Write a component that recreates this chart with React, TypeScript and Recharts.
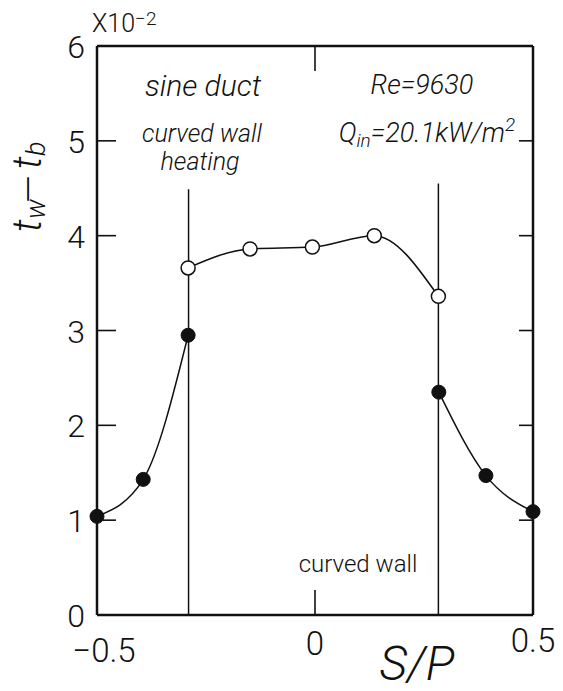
import React from 'react';
import { ComposedChart, Line, XAxis, YAxis, ReferenceLine, Customized } from 'recharts';

const leftFilledX = [-0.5, -0.394, -0.291];
const leftFilledY = [1.04, 1.43, 2.95];
const rightFilledX = [0.284, 0.392, 0.5];
const rightFilledY = [2.35, 1.47, 1.09];
const openX = [-0.291, -0.149, -0.006, 0.136, 0.283];
const openY = [3.66, 3.86, 3.88, 4.0, 3.36];
const wallX = [-0.29, 0.283];
const wallTop = [4.49, 4.55];
const xTicks = [-0.5, 0, 0.5];
const yTicks = [0, 1, 2, 3, 4, 5, 6];

const toRows = (xs: number[], ys: number[]) => xs.map((x, i) => ({ x, y: ys[i] }));
const leftFilled = toRows(leftFilledX, leftFilledY);
const rightFilled = toRows(rightFilledX, rightFilledY);
const openPts = toRows(openX, openY);

const W = 563;
const H = 691;
const PL = 97;
const PR = 533;
const PT = 46;
const PB = 615;
const FONT = 'Roboto, "Liberation Sans", Arial, sans-serif';
const INK = '#111';
const FW = 300;

const YTick = (props: any) => {
  const { x, y, payload } = props;
  const v = payload.value;
  const inner = v !== 0 && v !== 6;
  return (
    <g>
      <text x={x} y={y} dy={12} textAnchor="end" fontFamily={FONT} fontWeight={FW} fontSize={32} fill={INK}>
        {v}
      </text>
      {inner && <line x1={PL} x2={PL + 19} y1={y} y2={y} stroke={INK} strokeWidth={1.6} />}
      {inner && <line x1={PR - 14} x2={PR} y1={y} y2={y} stroke={INK} strokeWidth={1.6} />}
    </g>
  );
};

const XTick = (props: any) => {
  const { x, payload } = props;
  const v = payload.value;
  const label = v < 0 ? '\u2212' + String(Math.abs(v)) : String(v);
  const dx = v < 0 ? 7 : v > 0 ? 0 : 0;
  const dy = v < 0 ? 7 : v > 0 ? -3 : 0;
  return (
    <g>
      <text x={x + dx} y={PB + 40 + dy} textAnchor="middle" fontFamily={FONT} fontWeight={FW} fontSize={33} fill={INK}>
        {label}
      </text>
      {v === 0 && <line x1={x} x2={x} y1={PB - 25} y2={PB} stroke={INK} strokeWidth={1.6} />}
      {v === 0 && <line x1={x} x2={x} y1={PT} y2={PT + 25} stroke={INK} strokeWidth={1.6} />}
    </g>
  );
};

const Annotations = () => (
  <g fontFamily={FONT} fontWeight={FW} fill={INK}>
    <text x={92} y={32} fontSize={25} fill={INK}>
      X10
      <tspan dy={-7} fontSize={19}>{'\u22122'}</tspan>
    </text>
    <text transform="translate(41,232) rotate(-90)" fontSize={40} fontStyle="italic" fill={INK}>t</text>
    <text transform="translate(45,219) rotate(-90)" fontSize={27} fontStyle="italic" fill={INK}>w</text>
    <text transform="translate(41,203) rotate(-90)" fontSize={36} fill={INK}>{'\u2014'}</text>
    <text transform="translate(41,169) rotate(-90)" fontSize={40} fontStyle="italic" fill={INK}>t</text>
    <text transform="translate(45,156) rotate(-90)" fontSize={27} fontStyle="italic" fill={INK}>b</text>
    <text x={417} y={680} textAnchor="middle" fontSize={48} fontStyle="italic" fill={INK}>
      S/P
    </text>
    <text x={203} y={96} textAnchor="middle" fontSize={30} fontStyle="italic" fill={INK}>
      sine duct
    </text>
    <text x={202} y={142} textAnchor="middle" fontSize={25} fontStyle="italic" fill={INK}>
      curved wall
    </text>
    <text x={200} y={170} textAnchor="middle" fontSize={25} fontStyle="italic" fill={INK}>
      heating
    </text>
    <text x={422} y={94} textAnchor="middle" fontSize={27} fontStyle="italic" fill={INK}>
      Re=9630
    </text>
    <text x={427} y={142} textAnchor="middle" fontSize={27} fontStyle="italic" fill={INK}>
      Q<tspan fontSize={19} dy={5}>in</tspan>
      <tspan dy={-5}>=20.1kW/m</tspan>
      <tspan fontSize={19} dy={-11}>2</tspan>
    </text>
    <text x={358} y={572} textAnchor="middle" fontSize={24} fill={INK}>
      curved wall
    </text>
  </g>
);

const filledDot = (props: any) => {
  const { cx, cy, index } = props;
  return <circle key={'f' + index + cx} cx={cx} cy={cy} r={7} fill={INK} stroke={INK} />;
};

const openDot = (props: any) => {
  const { cx, cy, index } = props;
  return <circle key={'o' + index + cx} cx={cx} cy={cy} r={7} fill="#fff" stroke={INK} strokeWidth={1.5} />;
};

export default function App() {
  return (
    <div style={{ margin: -8, width: W, height: H, background: '#fff' }}>
      <ComposedChart
        width={W}
        height={H}
        margin={{ top: PT, right: W - PR, left: PL - 60, bottom: H - PB - 40 }}
        style={{ background: '#fff' }}
      >
        <XAxis
          dataKey="x"
          type="number"
          domain={[-0.5, 0.5]}
          ticks={xTicks}
          height={40}
          axisLine={{ stroke: INK, strokeWidth: 2.5 }}
          tickLine={false}
          tick={<XTick />}
          interval={0}
          allowDuplicatedCategory={false}
        />
        <YAxis
          type="number"
          domain={[0, 6]}
          ticks={yTicks}
          width={60}
          axisLine={{ stroke: INK, strokeWidth: 2.5 }}
          tickLine={false}
          tickSize={0}
          tickMargin={12}
          tick={<YTick />}
          interval={0}
        />
        <ReferenceLine y={6} stroke={INK} strokeWidth={2.5} />
        <ReferenceLine x={0.5} stroke={INK} strokeWidth={2.5} />
        {wallX.map((wx, i) => (
          <ReferenceLine
            key={'w' + i}
            segment={[
              { x: wx, y: 0 },
              { x: wx, y: wallTop[i] },
            ]}
            stroke={INK}
            strokeWidth={1.5}
          />
        ))}
        <Line
          data={leftFilled}
          dataKey="y"
          type="monotone"
          stroke={INK}
          strokeWidth={1.5}
          dot={filledDot}
          activeDot={false}
          isAnimationActive={false}
        />
        <Line
          data={rightFilled}
          dataKey="y"
          type="monotone"
          stroke={INK}
          strokeWidth={1.5}
          dot={filledDot}
          activeDot={false}
          isAnimationActive={false}
        />
        <Line
          data={openPts}
          dataKey="y"
          type="monotone"
          stroke={INK}
          strokeWidth={1.5}
          dot={openDot}
          activeDot={false}
          isAnimationActive={false}
        />
        <Customized component={Annotations} />
      </ComposedChart>
    </div>
  );
}
